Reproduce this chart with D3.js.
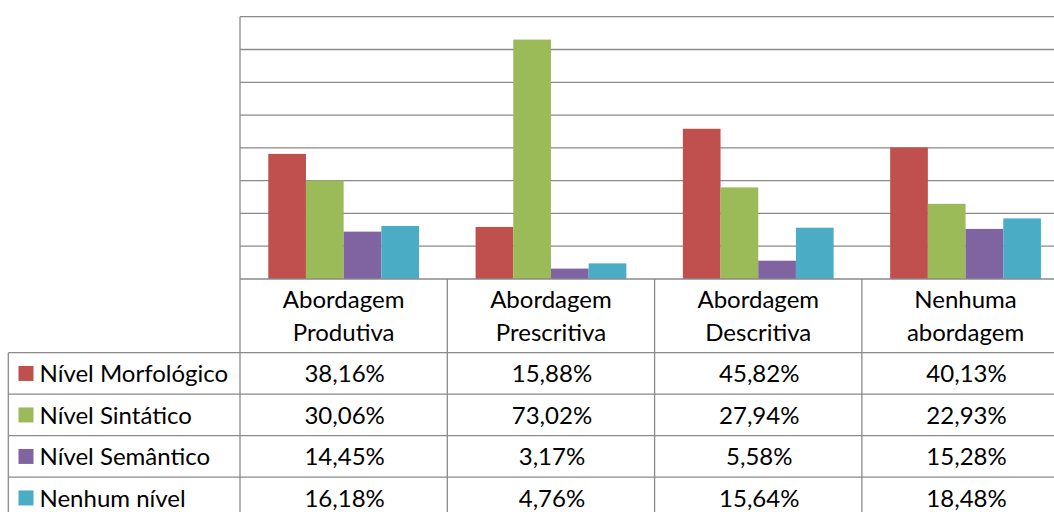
<!DOCTYPE html>
<html><head><meta charset="utf-8">
<script src="https://cdn.jsdelivr.net/npm/d3@7"></script>
<style>
html,body{margin:0;padding:0;background:#fff;overflow:hidden}
svg{display:block}
text{font-family:Lato,"Open Sans",sans-serif;fill:#000}
</style></head>
<body>
<script>
const categories = [["Abordagem","Produtiva"],["Abordagem","Prescritiva"],["Abordagem","Descritiva"],["Nenhuma","abordagem"]];
const seriesNames = ["Nível Morfológico","Nível Sintático","Nível Semântico","Nenhum nível"];
const morfologico = [38.16, 15.88, 45.82, 40.13];
const sintatico   = [30.06, 73.02, 27.94, 22.93];
const semantico   = [14.45, 3.17, 5.58, 15.28];
const nenhum      = [16.18, 4.76, 15.64, 18.48];
const yTicks = [0,10,20,30,40,50,60,70,80];
const colors = ["#C0504D","#9BBB59","#8064A2","#4BACC6"];

const series = [morfologico, sintatico, semantico, nenhum];
const W = 1054, H = 512;
const svg = d3.select("body").append("svg").attr("width", W).attr("height", H);

const plotLeft = 240, colW = 207.3, plotTop = 16.7, axisY = 279;
const catKeys = categories.map((c,i)=>i);
const x = d3.scaleBand().domain(catKeys).range([plotLeft, plotLeft + colW*categories.length]).paddingInner(0).paddingOuter(0);
const xs = d3.scaleBand().domain(d3.range(series.length)).range([0, x.bandwidth()]).paddingInner(0).paddingOuter(0.75);
const y = d3.scaleLinear().domain([0,80]).range([axisY, plotTop]);
const lineColor = "#8a8a8a";

// gridlines
svg.append("g").selectAll("line").data(yTicks.slice(1)).join("line")
  .attr("x1", plotLeft).attr("x2", W + 40)
  .attr("y1", d=>y(d)).attr("y2", d=>y(d))
  .attr("stroke", lineColor).attr("stroke-width", 1.3);

// bars
const g = svg.append("g");
series.forEach((vals, si) => {
  g.selectAll(null).data(vals).join("rect")
    .attr("x", (d,i)=> x(i) + xs(si))
    .attr("width", xs.bandwidth())
    .attr("y", d=>y(d))
    .attr("height", d=> y(0) - y(d))
    .attr("fill", colors[si]);
});

// axis lines
svg.append("line").attr("x1", plotLeft).attr("x2", plotLeft).attr("y1", plotTop).attr("y2", H+20)
  .attr("stroke", lineColor).attr("stroke-width", 1.3);
svg.append("line").attr("x1", plotLeft).attr("x2", W+40).attr("y1", axisY).attr("y2", axisY)
  .attr("stroke", lineColor).attr("stroke-width", 1.3);

// table
const headBottom = 352.7, rowH = 41.5, legendLeft = 8.3;
const fs = 24, cap = 17.2, lineSp = 33.4;
catKeys.slice(1).forEach(i=>{
  svg.append("line").attr("x1", x(i)).attr("x2", x(i)).attr("y1", axisY).attr("y2", H+20)
    .attr("stroke", lineColor).attr("stroke-width", 1.3);
});
svg.append("line").attr("x1", legendLeft).attr("x2", legendLeft).attr("y1", headBottom).attr("y2", H+20)
  .attr("stroke", lineColor).attr("stroke-width", 1.3);
for (let r=0; r<=series.length; r++) {
  svg.append("line").attr("x1", legendLeft).attr("x2", W+40)
    .attr("y1", headBottom + r*rowH).attr("y2", headBottom + r*rowH)
    .attr("stroke", lineColor).attr("stroke-width", 1.3);
}
// header labels
const hc = (axisY + headBottom)/2;
categories.forEach((lines, i) => {
  lines.forEach((t, li) => {
    svg.append("text").attr("x", x(i) + x.bandwidth()/2)
      .attr("y", hc + cap/2 - lineSp/2 + li*lineSp)
      .attr("text-anchor","middle").attr("font-size", fs).text(t);
  });
});
// rows
const fmt = v => d3.format(".2f")(v).replace(".", ",") + "%";
series.forEach((vals, si) => {
  const rc = headBottom + si*rowH + rowH/2;
  svg.append("rect").attr("x", 18.5).attr("y", rc - 7.5).attr("width", 15).attr("height", 15).attr("fill", colors[si]);
  svg.append("text").attr("x", 39.5).attr("y", rc + cap/2).attr("font-size", fs).text(seriesNames[si]);
  vals.forEach((v, i) => {
    svg.append("text").attr("x", x(i) + x.bandwidth()/2 + 1).attr("y", rc + cap/2)
      .attr("text-anchor","middle").attr("font-size", fs).text(fmt(v));
  });
});
</script>
</body></html>
